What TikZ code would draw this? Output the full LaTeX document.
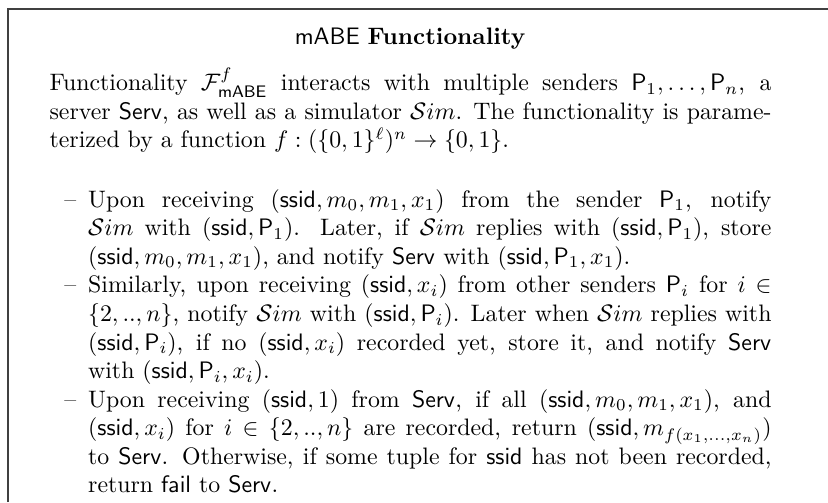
\documentclass[tikz,border=0pt]{standalone}
\usepackage{amsmath,amssymb}
\usepackage{enumitem}
\usetikzlibrary{positioning}

\newcommand{\sname}[1]{\mathsf{#1}}
\newcommand{\simul}{\mathcal{S}im}

\begin{document}
\begin{tikzpicture}[x=1pt,y=1pt]
\tikzstyle{every node}+=[inner sep=0pt]
\tikzstyle{frameline}=[black!75,line width=0.8pt]
\tikzstyle{bodytext}=[anchor=base west,text width=303pt,align=justify]
\useasboundingbox (0,0) rectangle (347.5,-210.7);
% frame, cut off at right and bottom
\coordinate (corner) at (3.36,-3.78);
\draw [frameline] (corner |- 0,-210.7) -- (corner) -- (corner -| 347.5,0);
\node [bodytext] (body) at (20.6,-38.1) {%
Functionality $\mathcal{F}^{f}_{\sname{mABE}}$ interacts with multiple senders $\sname{P}_1,\ldots,\sname{P}_n$, a server $\sname{Serv}$, as well as a simulator $\simul$. The functionality is parameterized by a function $f:(\{0,1\}^\ell)^n\rightarrow\{0,1\}$.
\begin{itemize}[leftmargin=16.2pt,label=--,itemsep=0pt,parsep=0pt,topsep=12.8pt]
\item Upon receiving $(\sname{ssid},m_0,m_1,x_1)$ from the sender $\sname{P}_1$, notify\linebreak $\simul$ with $(\sname{ssid},\sname{P}_1)$. Later, if $\simul$ replies with $(\sname{ssid},\sname{P}_1)$, store $(\sname{ssid},m_0,m_1,x_1)$, and notify $\sname{Serv}$ with $(\sname{ssid},\sname{P}_1,x_1)$.
\item Similarly, upon receiving $(\sname{ssid},x_i)$ from other senders $\sname{P}_i$ for $i\in\{2,..,n\}$, notify $\simul$ with $(\sname{ssid},\sname{P}_i)$. Later when $\simul$ replies with $(\sname{ssid},\sname{P}_i)$, if no $(\sname{ssid},x_i)$ recorded yet, store it, and notify $\sname{Serv}$\linebreak with $(\sname{ssid},\sname{P}_i,x_i)$.
\item Upon receiving $(\sname{ssid},1)$ from $\sname{Serv}$, if all $(\sname{ssid},m_0,m_1,x_1)$, and $(\sname{ssid},x_i)$ for $i\in\{2,..,n\}$ are recorded, return $(\sname{ssid},m_{f(x_1,\ldots,x_n)})$ to $\sname{Serv}$. Otherwise, if some tuple for $\sname{ssid}$ has not been recorded, return $\sname{fail}$ to $\sname{Serv}$.
\end{itemize}};
\node [anchor=base] (heading) at (172.1,-18.5) {\textsf{mABE} \textbf{Functionality}};
\end{tikzpicture}
\end{document}
